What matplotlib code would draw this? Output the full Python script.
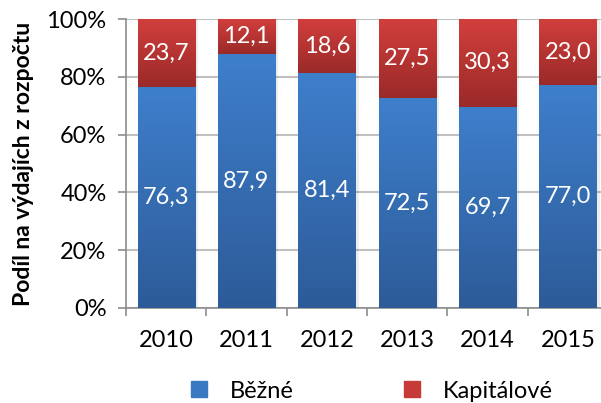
import numpy as np
import matplotlib.pyplot as plt
from matplotlib.colors import LinearSegmentedColormap
from matplotlib.lines import Line2D
from matplotlib.ticker import FixedLocator, PercentFormatter

plt.rcParams['font.family'] = ['Lato', 'DejaVu Sans']
plt.rcParams['font.size'] = 17

years = ['2010', '2011', '2012', '2013', '2014', '2015']
bezne = [76.3, 87.9, 81.4, 72.5, 69.7, 77.0]
kapitalove = [23.7, 12.1, 18.6, 27.5, 30.3, 23.0]
series_names = ['Běžné', 'Kapitálové']

blue_top, blue_bot = '#3e7fcc', '#2d5b98'
red_top, red_bot = '#d23f3d', '#9a2a28'

fig = plt.figure(figsize=(6.01, 4.03), dpi=100)
ax = fig.add_axes([126 / 601, 1 - 308 / 403, 482 / 601, 289 / 403])

x = np.arange(len(years))
w = 0.71
grad = np.linspace(0, 1, 256).reshape(-1, 1)


def gradient_bars(bars, top, bot):
    cmap = LinearSegmentedColormap.from_list('g', [bot, top])
    for b in bars:
        x0, y0 = b.get_x(), b.get_y()
        x1, y1 = x0 + b.get_width(), y0 + b.get_height()
        im = ax.imshow(grad, cmap=cmap, extent=[x0, x1, y0, y1],
                       origin='lower', aspect='auto', zorder=3)
        im.set_clip_path(b)
        b.set_facecolor('none')


# faint shadow on the right of each column
ax.bar(x + 0.04, [100] * len(x), w, color='#000000', alpha=0.07, zorder=2)
b1 = ax.bar(x, bezne, w, zorder=3, linewidth=0)
b2 = ax.bar(x, kapitalove, w, bottom=bezne, zorder=3, linewidth=0)
gradient_bars(b1, blue_top, blue_bot)
gradient_bars(b2, red_top, red_bot)

for i in range(len(x)):
    ax.text(x[i], bezne[i] / 2, f'{bezne[i]:.1f}'.replace('.', ','),
            ha='center', va='center', color='white', zorder=5)
    ax.text(x[i], bezne[i] + kapitalove[i] / 2,
            f'{kapitalove[i]:.1f}'.replace('.', ','),
            ha='center', va='center', color='white', zorder=5)

ax.set_xlim(-0.5, 5.5)
ax.set_ylim(0, 100)
ax.set_yticks(np.arange(0, 101, 20))
ax.yaxis.set_major_formatter(PercentFormatter(decimals=0))
ax.set_xticks(x)
ax.set_xticklabels(years)
ax.xaxis.set_minor_locator(FixedLocator(np.arange(-0.5, 5.6, 1)))
ax.tick_params(axis='x', which='major', length=0, pad=16)
ax.tick_params(axis='x', which='minor', length=6, width=1.2, color='#8c8c8c', direction='out')
ax.tick_params(axis='y', length=6, width=1.2, color='#8c8c8c', pad=8)
ax.grid(axis='y', color='#c0c0c0', linewidth=1.5, zorder=0)
ax.set_axisbelow(True)
for s in ['top', 'right']:
    ax.spines[s].set_visible(False)
for s in ['left', 'bottom']:
    ax.spines[s].set_color('#8c8c8c')
    ax.spines[s].set_linewidth(1.2)

ax.set_ylabel('Podíl na výdajích z rozpočtu', fontweight='bold', fontsize=16.5)
ax.yaxis.set_label_coords(-0.19, 0.5)

handles = [Line2D([], [], marker='s', linestyle='none', markersize=12,
                  markerfacecolor=c, markeredgecolor=c)
           for c in ['#3a78c2', '#c63a38']]
fig.legend(handles, series_names, loc='center', bbox_to_anchor=(364 / 601, 1 - 391 / 403),
           ncol=2, frameon=False, handletextpad=0.3, columnspacing=4.0, fontsize=17)

fig.savefig('out.png', dpi=100)
